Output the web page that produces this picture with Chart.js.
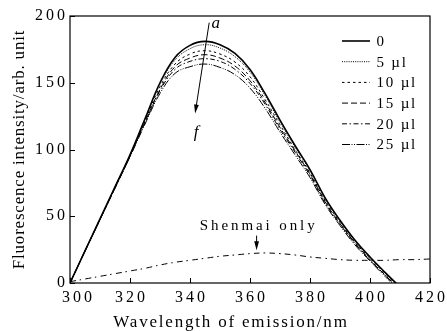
<!DOCTYPE html>
<html>
<head>
<meta charset="utf-8">
<script src="https://cdn.jsdelivr.net/npm/chart.js@4.4.1/dist/chart.umd.min.js"></script>
<style>
  html, body { margin: 0; padding: 0; background: #fff; }
  #wrap { width: 447px; height: 331px; }
</style>
</head>
<body>
<div id="wrap"><canvas id="chart" width="447" height="331"></canvas></div>
<script>
// Emission wavelengths (nm) shared by the titration curves
const wavelengths = [300, 305, 310, 315, 320, 325, 330, 335, 340, 345, 350, 355,
                     360, 365, 370, 375, 380, 385, 390, 395, 400, 405, 410];

const seriesLabels = ['0', '5 µl', '10 µl', '15 µl', '20 µl', '25 µl'];

// Fluorescence intensity (arb. unit), curve a (0) to curve f (25 µl)
const intensity0  = [0, 24, 48, 72, 96, 123, 150, 169, 178, 181, 178.5, 172, 160, 142, 122, 103, 85, 64, 47, 32, 19.5, 8, -3];
const intensity5  = [0, 24, 48, 72, 96, 122.5, 149, 167, 175.5, 178.5, 176, 169.5, 158, 140.5, 120.5, 102, 84, 63, 46.5, 31.5, 19, 7.5, -3.5];
const intensity10 = [0, 24, 48, 71.5, 95.5, 121.5, 147, 164, 171.5, 174, 171.5, 165.5, 154.5, 137.5, 118.5, 100, 82.5, 62, 45.5, 30.5, 18.5, 7, -4];
const intensity15 = [0, 24, 47.5, 71.5, 95, 120.5, 145, 162, 168.5, 171, 168.5, 162.5, 151.5, 135.5, 116.5, 99, 81.5, 61, 44.5, 30, 17.5, 6, -5];
const intensity20 = [0, 24, 47.5, 71, 95, 120, 144, 160, 166, 168, 166, 160, 149.5, 134, 115, 98, 80.5, 60, 44, 29.5, 17, 6, -5.5];
const intensity25 = [0, 24, 47.5, 71, 94.5, 119, 142, 157, 162, 164, 161.5, 156, 146, 131, 113, 96, 79, 59, 43, 28.5, 16.5, 5, -6];

// Shenmai injection alone
const shenmaiWavelengths = [300, 305, 310, 315, 320, 325, 330, 335, 340, 345, 350, 355, 360,
                            365, 370, 375, 380, 385, 390, 395, 400, 405, 410, 415, 420];
const shenmaiOnly = [1, 3, 5, 7, 9, 11, 13.5, 15.5, 17, 18.5, 20, 21, 22,
                     22.5, 22, 21, 19.5, 18.5, 17.5, 17, 17, 17, 17.5, 17.5, 18];

const xTicks = [300, 320, 340, 360, 380, 400, 420];
const yTicks = [0, 50, 100, 150, 200];

const allSeries = [intensity0, intensity5, intensity10, intensity15, intensity20, intensity25];
const dashes = [[], [1, 1.2], [2.5, 3], [6, 3], [5, 2.5, 1.5, 2.5], [8, 1.5, 1, 1.5, 1, 1.5]];
const widths = [1.6, 1, 1, 1, 1, 1];

const toPoints = (xs, ys) => xs.map((x, i) => ({ x: x, y: ys[i] }));

const datasets = allSeries.map((ys, i) => ({
    label: seriesLabels[i],
    data: toPoints(wavelengths, ys),
    borderColor: '#000',
    borderWidth: widths[i],
    borderDash: dashes[i],
    pointRadius: 0,
    tension: 0.4,
    fill: false
}));
datasets.push({
    label: 'Shenmai only',
    data: toPoints(shenmaiWavelengths, shenmaiOnly),
    borderColor: '#000',
    borderWidth: 1,
    borderDash: [6, 4, 1.5, 4],
    pointRadius: 0,
    tension: 0.4,
    fill: false
});

const SERIF = "'Liberation Serif', 'Times New Roman', serif";

function arrow(ctx, x1, y1, x2, y2) {
    const ang = Math.atan2(y2 - y1, x2 - x1);
    const len = 9, half = 2.4;
    ctx.beginPath();
    ctx.moveTo(x1, y1);
    ctx.lineTo(x2 - Math.cos(ang) * len * 0.8, y2 - Math.sin(ang) * len * 0.8);
    ctx.stroke();
    ctx.beginPath();
    ctx.moveTo(x2, y2);
    ctx.lineTo(x2 - Math.cos(ang) * len - Math.sin(ang) * half, y2 - Math.sin(ang) * len + Math.cos(ang) * half);
    ctx.lineTo(x2 - Math.cos(ang) * len + Math.sin(ang) * half, y2 - Math.sin(ang) * len - Math.cos(ang) * half);
    ctx.closePath();
    ctx.fill();
}

// Frame, inward ticks, legend, titles and annotations
const chartFrame = {
    id: 'chartFrame',
    beforeDraw(chart) {
        chart.ctx.letterSpacing = '3px';
    },
    afterDraw(chart) {
        const ctx = chart.ctx;
        const a = chart.chartArea;
        const xs = chart.scales.x, ys = chart.scales.y;
        ctx.save();
        ctx.letterSpacing = '0px';
        ctx.strokeStyle = '#000';
        ctx.fillStyle = '#000';
        ctx.lineWidth = 1.2;
        ctx.strokeRect(a.left, a.top, a.right - a.left, a.bottom - a.top);

        ctx.lineWidth = 1;
        xTicks.forEach(v => {
            const px = Math.round(xs.getPixelForValue(v)) + 0.5;
            ctx.beginPath();
            ctx.moveTo(px, a.bottom);
            ctx.lineTo(px, a.bottom - 5);
            ctx.stroke();
        });
        yTicks.forEach(v => {
            const py = Math.round(ys.getPixelForValue(v)) + 0.5;
            ctx.beginPath();
            ctx.moveTo(a.left, py);
            ctx.lineTo(a.left + 5, py);
            ctx.stroke();
        });

        // legend inside the plot
        ctx.font = '15px ' + SERIF;
        ctx.textBaseline = 'middle';
        ctx.textAlign = 'left';
        for (let i = 0; i < seriesLabels.length; i++) {
            const ly = a.top + 25 + i * 20.7;
            ctx.save();
            ctx.lineWidth = widths[i];
            ctx.setLineDash(dashes[i]);
            ctx.beginPath();
            ctx.moveTo(342, ly);
            ctx.lineTo(370, ly);
            ctx.stroke();
            ctx.restore();
            ctx.letterSpacing = '1.8px';
            ctx.fillText(seriesLabels[i], 376.5, ly + 1);
            ctx.letterSpacing = '0px';
        }

        // axis titles
        ctx.font = '17px ' + SERIF;
        ctx.textAlign = 'center';
        ctx.textBaseline = 'alphabetic';
        ctx.letterSpacing = '1.8px';
        ctx.fillText('Wavelength of emission/nm', (a.left + a.right) / 2 - 19, 327);
        ctx.save();
        ctx.translate(24, (a.top + a.bottom) / 2);
        ctx.rotate(-Math.PI / 2);
        ctx.letterSpacing = '0.8px';
        ctx.fillText('Fluorescence intensity/arb. unit', 0, 0);
        ctx.restore();

        // a -> f arrow
        ctx.letterSpacing = '0px';
        ctx.font = 'italic 17px ' + SERIF;
        ctx.fillText('a', xs.getPixelForValue(348.6), ys.getPixelForValue(191));
        ctx.fillText('f', xs.getPixelForValue(342), ys.getPixelForValue(109));
        ctx.lineWidth = 1;
        arrow(ctx, xs.getPixelForValue(346.4), ys.getPixelForValue(195),
                   xs.getPixelForValue(341.7), ys.getPixelForValue(127));

        // Shenmai only label
        ctx.font = '15px ' + SERIF;
        ctx.letterSpacing = '2.9px';
        ctx.fillText('Shenmai only', xs.getPixelForValue(362.4) + 1.5, ys.getPixelForValue(39.6));
        arrow(ctx, xs.getPixelForValue(362.2), ys.getPixelForValue(35.5),
                   xs.getPixelForValue(362.2), ys.getPixelForValue(24.6));
        ctx.restore();
        ctx.letterSpacing = '0px';
    }
};

Chart.defaults.font.family = SERIF;
Chart.defaults.font.size = 16;
Chart.defaults.color = '#000';

new Chart(document.getElementById('chart').getContext('2d'), {
    type: 'line',
    data: { datasets: datasets },
    options: {
        responsive: false,
        devicePixelRatio: 1,
        animation: false,
        layout: { padding: { left: 0, top: 16, right: 15, bottom: 0 } },
        plugins: { legend: { display: false }, tooltip: { enabled: false } },
        scales: {
            x: {
                type: 'linear',
                min: 300,
                max: 420,
                afterFit: s => { s.height = 48; },
                afterBuildTicks: s => { s.ticks = xTicks.map(v => ({ value: v })); },
                grid: { display: false, drawTicks: false },
                border: { display: false },
                ticks: {
                    padding: 5, labelOffset: 1.5, maxRotation: 0, font: { size: 16 },
                    // first label sits a little right of the corner, clear of the y "0"
                    callback: v => (v === 300 ? '  300' : String(v))
                }
            },
            y: {
                min: 0,
                max: 200,
                afterFit: s => { s.width = 70; },
                afterBuildTicks: s => { s.ticks = yTicks.map(v => ({ value: v })); },
                grid: { display: false, drawTicks: false },
                border: { display: false },
                ticks: { padding: 2, font: { size: 16 } }
            }
        }
    },
    plugins: [chartFrame]
});
</script>
</body>
</html>
